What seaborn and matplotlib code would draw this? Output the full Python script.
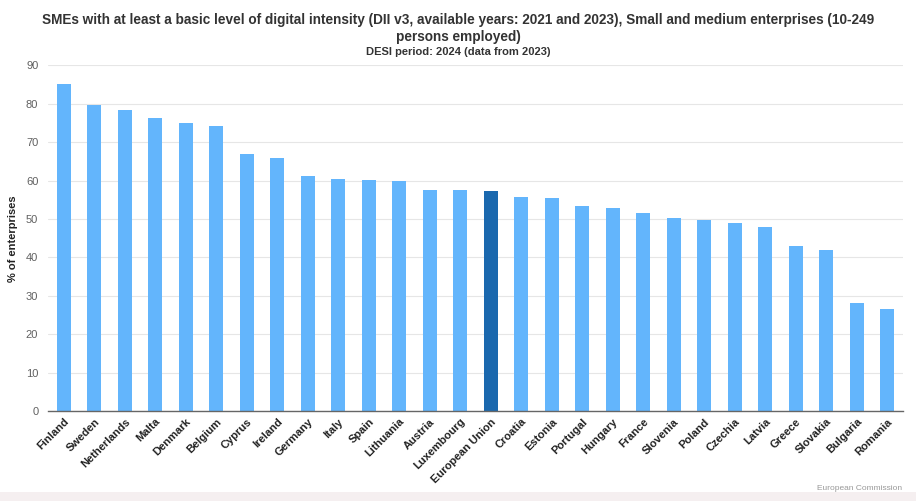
import matplotlib
matplotlib.use("Agg")
import matplotlib.pyplot as plt
import seaborn as sns
import pandas as pd

countries = ["Finland", "Sweden", "Netherlands", "Malta", "Denmark", "Belgium", "Cyprus",
             "Ireland", "Germany", "Italy", "Spain", "Lithuania", "Austria", "Luxembourg",
             "European Union", "Croatia", "Estonia", "Portugal", "Hungary", "France",
             "Slovenia", "Poland", "Czechia", "Latvia", "Greece", "Slovakia", "Bulgaria", "Romania"]
values = [85.3, 79.6, 78.3, 76.2, 75.0, 74.2, 66.9, 65.9, 61.1, 60.4, 60.2, 59.8, 57.6, 57.6,
          57.4, 55.7, 55.5, 53.3, 52.9, 51.7, 50.3, 49.8, 49.0, 48.0, 43.0, 42.0, 28.2, 26.6]
y_ticks = [0, 10, 20, 30, 40, 50, 60, 70, 80, 90]

title_line1 = ("SMEs with at least a basic level of digital intensity (DII v3, available years: 2021 and 2023), "
               "Small and medium enterprises (10-249")
title_line2 = "persons employed)"
subtitle = "DESI period: 2024 (data from 2023)"
y_label = "% of enterprises"
credit = "European Commission"

light = "#63b5fc"
dark = "#1a68ae"

sns.set_theme(style="white")
plt.rcParams['font.family'] = ['Liberation Sans', 'DejaVu Sans']

df = pd.DataFrame({"country": countries, "value": values})
palette = {c: (dark if c == "European Union" else light) for c in countries}

fig = plt.figure(figsize=(9.16, 5.01), dpi=100)
ax = fig.add_axes([0.0524, 0.1796, 0.9334, 0.6897])

sns.barplot(data=df, x="country", y="value", hue="country", palette=palette,
            width=0.46, legend=False, ax=ax, saturation=1, linewidth=0)

ax.set_ylim(0, 90)
ax.set_xlim(-0.52, len(countries) - 0.48)
ax.set_yticks(y_ticks)
ax.set_yticklabels([str(t) for t in y_ticks], fontsize=8, color="#606060")
ax.yaxis.grid(True, color="#e6e6e6", linewidth=0.8)
ax.set_axisbelow(True)
for s in ["top", "right", "left"]:
    ax.spines[s].set_visible(False)
ax.spines["bottom"].set_color("#666666")
ax.spines["bottom"].set_linewidth(1)
ax.tick_params(axis="y", length=0, pad=7)
ax.tick_params(axis="x", length=0, pad=4)
ax.set_xticks(range(len(countries)))
ax.set_xticklabels(countries, rotation=45, ha="right", rotation_mode="anchor",
                   fontsize=8, fontweight="bold", color="#222222")
ax.set_xlabel("")
ax.set_ylabel(y_label, fontsize=8, fontweight="bold", color="#222222", labelpad=6)

fig.text(0.5, 0.960, title_line1, ha="center", va="center", fontsize=9.8, fontweight="bold",
         color="#333333")
fig.text(0.5, 0.926, title_line2, ha="center", va="center", fontsize=9.8, fontweight="bold",
         color="#333333")
fig.text(0.5, 0.897, subtitle, ha="center", va="center", fontsize=8, fontweight="bold",
         color="#333333")
fig.text(0.985, 0.025, credit, ha="right", va="center", fontsize=6, color="#999999")

fig.patches.append(plt.Rectangle((0, 0), 1, 0.018, transform=fig.transFigure,
                                 facecolor="#f5eff0", edgecolor="none", zorder=0))

fig.savefig("out.png", dpi=100)
